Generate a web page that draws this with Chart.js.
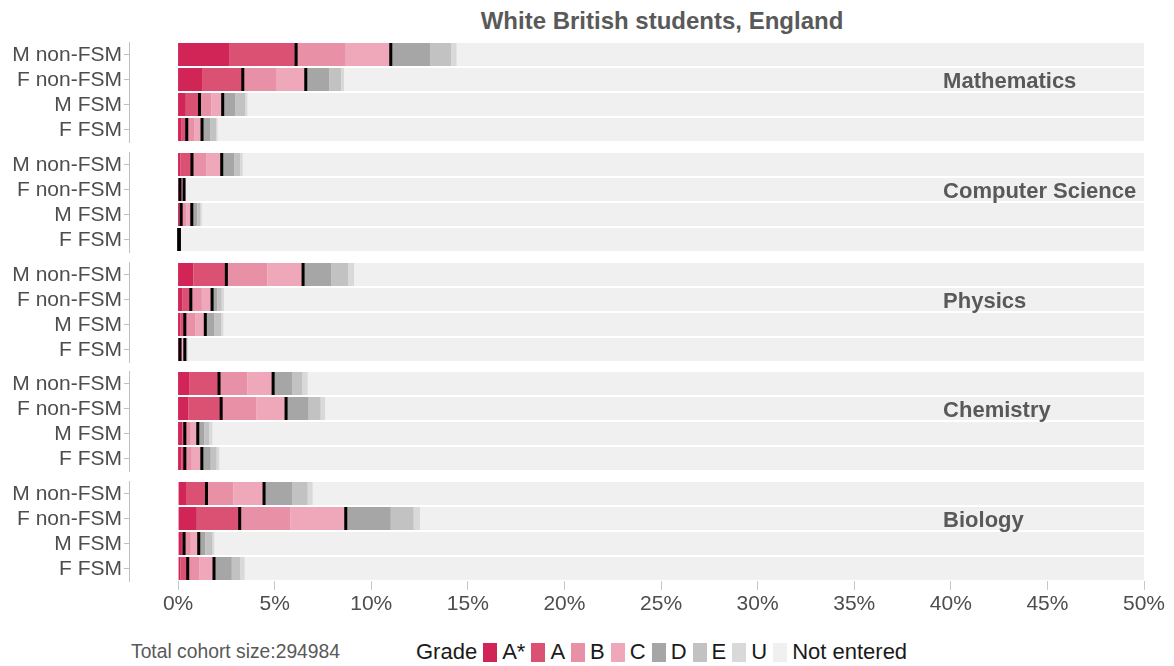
<!DOCTYPE html>
<html><head><meta charset="utf-8">
<script src="https://cdn.jsdelivr.net/npm/chart.js@4.4.1/dist/chart.umd.min.js"></script>
<style>
html,body{margin:0;padding:0;background:#fff;}
#wrap{position:relative;width:1174px;height:666px;overflow:hidden;font-family:"Liberation Sans",Arial,sans-serif;background:#fff;}
canvas.panel{position:absolute;left:0;}
#title{position:absolute;left:178px;width:968px;top:7px;text-align:center;font-weight:bold;font-size:24px;color:#595959;line-height:28px;}
#foot{position:absolute;left:131px;top:640px;font-size:19.3px;color:#595959;line-height:24px;white-space:nowrap;}
#legend{position:absolute;left:416px;top:639px;display:flex;align-items:center;font-size:22px;color:#1a1a1a;line-height:26px;white-space:nowrap;}
#legend .box{width:14px;height:19px;margin-left:6px;margin-right:5px;}
</style></head>
<body><div id="wrap">
<div id="title">White British students, England</div>
<div id="foot">Total cohort size:294984</div>
<div id="legend"><span>Grade</span></div>
</div>
<script>
// ---- data (percent of cohort) ----
const groups = ['M non-FSM', 'F non-FSM', 'M FSM', 'F FSM'];
const subjects = ['Mathematics', 'Computer Science', 'Physics', 'Chemistry', 'Biology'];
const grades = ['A*', 'A', 'B', 'C', 'D', 'E', 'U', 'Not entered'];
const xTickValues = [0, 5, 10, 15, 20, 25, 30, 35, 40, 45, 50];

// each row: A*, A, B, C, D, E, U  (per group, in order of `groups`)
const mathematics = [
  [2.64, 3.47, 2.57, 2.33, 2.03, 1.09, 0.29],
  [1.24, 2.11, 1.72, 1.54, 1.22, 0.61, 0.15],
  [0.40, 0.71, 0.62, 0.58, 0.64, 0.52, 0.12],
  [0.16, 0.29, 0.38, 0.41, 0.42, 0.31, 0.08]
];
const computerScience = [
  [0.12, 0.60, 0.76, 0.78, 0.64, 0.31, 0.14],
  [0.03, 0.07, 0.10, 0.11, 0.04, 0.02, 0.01],
  [0.05, 0.11, 0.28, 0.27, 0.28, 0.17, 0.07],
  [0.01, 0.02, 0.02, 0.02, 0.01, 0.01, 0.00]
];
const physics = [
  [0.79, 1.71, 2.12, 1.85, 1.45, 0.88, 0.31],
  [0.21, 0.45, 0.57, 0.53, 0.27, 0.23, 0.12],
  [0.12, 0.23, 0.53, 0.53, 0.47, 0.35, 0.12],
  [0.04, 0.06, 0.12, 0.13, 0.08, 0.05, 0.03]
];
const chemistry = [
  [0.57, 1.55, 1.47, 1.33, 0.98, 0.54, 0.27],
  [0.53, 1.70, 1.81, 1.55, 1.17, 0.62, 0.23],
  [0.22, 0.13, 0.31, 0.36, 0.34, 0.26, 0.16],
  [0.18, 0.17, 0.36, 0.52, 0.46, 0.31, 0.14]
];
const biology = [
  [0.41, 1.06, 1.39, 1.59, 1.45, 0.81, 0.26],
  [0.97, 2.22, 2.61, 2.88, 2.33, 1.19, 0.33],
  [0.20, 0.11, 0.35, 0.41, 0.34, 0.37, 0.10],
  [0.12, 0.38, 0.59, 0.77, 0.92, 0.43, 0.24]
];
const subjectRows = [mathematics, computerScience, physics, chemistry, biology];

// ---- styles ----
const gradeColors = ['#d12457', '#da5174', '#e890a6', '#eea8b9', '#a6a6a6', '#c2c2c2', '#d9d9d9', '#f0f0f0'];
const FONT = '"Liberation Sans", Arial, sans-serif';
const panelTops = [37, 147, 257, 366, 476];

// legend
const legend = document.getElementById('legend');
grades.forEach((g, i) => {
  const b = document.createElement('span'); b.className = 'box'; b.style.background = gradeColors[i];
  const t = document.createElement('span'); t.textContent = g;
  legend.appendChild(b); legend.appendChild(t);
});

const marksPlugin = {
  id: 'gradeMarks',
  afterDatasetsDraw(chart, args, opts) {
    const ctx = chart.ctx, xs = chart.scales.x, ys = chart.scales.y, ca = chart.chartArea;
    const meta = chart.getDatasetMeta(0);
    ctx.save();
    ctx.beginPath(); ctx.rect(ca.left, ca.top, ca.right - ca.left, ca.bottom - ca.top); ctx.clip();
    ctx.fillStyle = '#000';
    opts.rows.forEach((r, i) => {
      const bar = meta.data[i].getProps(['y', 'height'], true);
      const cuts = [r[0] + r[1], r[0] + r[1] + r[2] + r[3]];
      cuts.forEach(v => {
        const x = xs.getPixelForValue(v);
        ctx.fillRect(x - 1.5, bar.y - bar.height / 2, 3, bar.height);
      });
    });
    ctx.font = 'bold 22px ' + FONT;
    ctx.fillStyle = '#595959';
    ctx.textBaseline = 'middle';
    ctx.textAlign = 'left';
    ctx.fillText(opts.subject, xs.getPixelForValue(opts.labelAt), ys.getPixelForValue(1) + 2);
    ctx.restore();
  }
};

const wrap = document.getElementById('wrap');
subjects.forEach((subj, k) => {
  const rows = subjectRows[k];
  const isLast = k === subjects.length - 1;
  const cv = document.createElement('canvas');
  cv.className = 'panel';
  cv.width = 1174; cv.height = isLast ? 150 : 110;
  cv.style.top = panelTops[k] + 'px';
  cv.style.width = '1174px'; cv.style.height = cv.height + 'px';
  wrap.appendChild(cv);

  const datasets = grades.map((g, gi) => ({
    label: g,
    data: rows.map(r => gi < 7 ? r[gi] : 100 - r.reduce((a, b) => a + b, 0)),
    backgroundColor: gradeColors[gi],
    borderWidth: 0,
    clip: 0
  }));

  new Chart(cv, {
    type: 'bar',
    data: { labels: groups, datasets },
    plugins: [marksPlugin],
    options: {
      indexAxis: 'y',
      responsive: false,
      animation: false,
      events: [],
      layout: { padding: { top: 5, right: 30, bottom: isLast ? 0 : 5, left: 0 } },
      datasets: { bar: { categoryPercentage: 1, barPercentage: 0.92 } },
      plugins: {
        legend: { display: false },
        tooltip: { enabled: false },
        gradeMarks: { rows, subject: subj, labelAt: 39.6 }
      },
      scales: {
        x: {
          stacked: true,
          min: -2.54, max: 50,
          display: isLast,
          afterBuildTicks: s => { s.ticks = xTickValues.map(v => ({ value: v })); },
          afterFit: s => { if (isLast) s.height = 45; s.paddingLeft = 0; s.paddingRight = 0; },
          grid: { display: true, drawOnChartArea: false, drawTicks: true, tickLength: 9, color: '#c8c8c8' },
          border: { display: false },
          ticks: {
            autoSkip: false, maxRotation: 0, padding: 2,
            font: { family: FONT, size: 21 }, color: '#4d4d4d',
            callback: v => v + '%'
          }
        },
        y: {
          stacked: true,
          afterFit: s => { s.width = 129; s.paddingTop = 0; s.paddingBottom = 0; },
          grid: { display: true, offset: false, drawOnChartArea: false, tickLength: 5, color: '#bfbfbf' },
          border: { display: true, color: '#bfbfbf', width: 1 },
          ticks: { autoSkip: false, padding: 2, labelOffset: 1, font: { family: FONT, size: 21, lineHeight: 1 }, color: '#4d4d4d' }
        }
      }
    }
  });
});
</script>
</body></html>
